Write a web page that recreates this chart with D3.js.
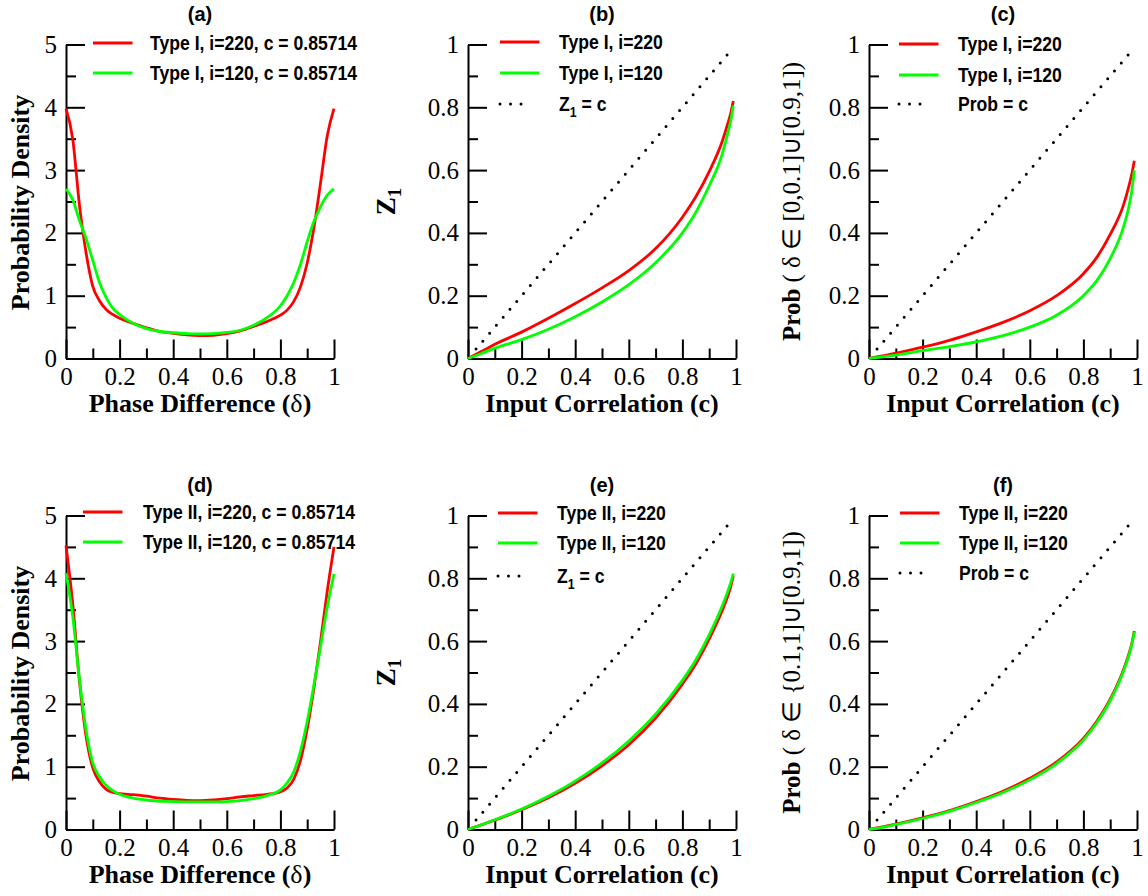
<!DOCTYPE html>
<html>
<head>
<meta charset="utf-8">
<script src="https://cdn.jsdelivr.net/npm/d3@7"></script>
<style>
  html, body { margin: 0; padding: 0; background: #ffffff; }
  svg { display: block; }
</style>
</head>
<body>
<svg id="fig" width="1148" height="896"></svg>
<script>
// ---------------- data ----------------
// phase difference grid for the density panels (a) and (d)
const phaseX = [0, 0.025, 0.05, 0.075, 0.1, 0.125, 0.15, 0.175, 0.2, 0.25, 0.3, 0.35, 0.4, 0.45, 0.5,
                0.55, 0.6, 0.65, 0.7, 0.75, 0.8, 0.825, 0.85, 0.875, 0.9, 0.925, 0.95, 0.975, 1];
const densityTypeI_220  = [3.98, 3.50, 2.45, 1.68, 1.15, 0.92, 0.78, 0.70, 0.64, 0.56, 0.49, 0.43, 0.40, 0.375, 0.365,
                           0.37, 0.395, 0.44, 0.51, 0.59, 0.69, 0.77, 0.91, 1.14, 1.52, 2.08, 2.80, 3.55, 3.98];
const densityTypeI_120  = [2.70, 2.53, 2.20, 1.91, 1.56, 1.21, 0.97, 0.80, 0.70, 0.56, 0.475, 0.43, 0.41, 0.395, 0.39,
                           0.395, 0.415, 0.45, 0.53, 0.65, 0.84, 1.00, 1.21, 1.50, 1.86, 2.18, 2.42, 2.60, 2.70];
const densityTypeII_220 = [4.52, 3.60, 2.37, 1.48, 0.98, 0.76, 0.64, 0.59, 0.57, 0.555, 0.53, 0.50, 0.48, 0.465, 0.46,
                           0.47, 0.49, 0.52, 0.54, 0.56, 0.60, 0.66, 0.80, 1.10, 1.60, 2.25, 3.00, 3.80, 4.50];
const densityTypeII_120 = [4.08, 3.40, 2.40, 1.58, 1.06, 0.84, 0.70, 0.62, 0.56, 0.50, 0.47, 0.45, 0.445, 0.44, 0.44,
                           0.44, 0.445, 0.46, 0.49, 0.54, 0.63, 0.74, 0.92, 1.25, 1.72, 2.30, 2.92, 3.55, 4.07];

// input correlation grid for panels (b), (c), (e), (f)
const corrX = [0, 0.05, 0.1, 0.2, 0.3, 0.4, 0.5, 0.6, 0.7, 0.8, 0.85, 0.9, 0.95, 0.97, 0.98, 0.99];
const z1TypeI_220    = [0, 0.022, 0.045, 0.084, 0.128, 0.175, 0.225, 0.28, 0.35, 0.45, 0.515, 0.595, 0.695, 0.75, 0.78, 0.82];
const z1TypeI_120    = [0, 0.016, 0.033, 0.060, 0.093, 0.133, 0.180, 0.235, 0.305, 0.40, 0.465, 0.55, 0.655, 0.72, 0.755, 0.805];
const probTypeI_220  = [0, 0.008, 0.017, 0.036, 0.058, 0.085, 0.115, 0.152, 0.20, 0.27, 0.322, 0.395, 0.49, 0.55, 0.585, 0.63];
const probTypeI_120  = [0, 0.005, 0.011, 0.025, 0.038, 0.053, 0.073, 0.10, 0.138, 0.20, 0.248, 0.318, 0.42, 0.485, 0.53, 0.60];
const z1TypeII_220   = [0, 0.015, 0.030, 0.063, 0.101, 0.147, 0.203, 0.27, 0.355, 0.463, 0.527, 0.607, 0.70, 0.745, 0.772, 0.808];
const z1TypeII_120   = [0, 0.015, 0.031, 0.065, 0.106, 0.154, 0.212, 0.282, 0.367, 0.475, 0.54, 0.62, 0.715, 0.76, 0.785, 0.815];
const probTypeII_220 = [0, 0.008, 0.017, 0.037, 0.060, 0.089, 0.122, 0.163, 0.215, 0.29, 0.345, 0.415, 0.51, 0.56, 0.59, 0.632];
const probTypeII_120 = [0, 0.007, 0.016, 0.035, 0.058, 0.086, 0.118, 0.158, 0.21, 0.285, 0.34, 0.41, 0.505, 0.555, 0.585, 0.63];

// reference diagonal (value = c), drawn dotted
const identityC = [0.03, 0.98];

// ticks
const xTickValues   = [0, 0.2, 0.4, 0.6, 0.8, 1];
const xTickLabels   = ["0", "0.2", "0.4", "0.6", "0.8", "1"];
const xMinorValues  = [0.1, 0.3, 0.5, 0.7, 0.9];
const densityTicks  = [0, 1, 2, 3, 4, 5];
const densityLabels = ["0", "1", "2", "3", "4", "5"];
const densityMinor  = [0.5, 1.5, 2.5, 3.5, 4.5];
const fracTicks     = [0, 0.2, 0.4, 0.6, 0.8, 1];
const fracLabels    = ["0", "0.2", "0.4", "0.6", "0.8", "1"];
const fracMinor     = [0.1, 0.3, 0.5, 0.7, 0.9];

// ---------------- drawing ----------------
const svg = d3.select("#fig");
const SERIF = "'Liberation Serif','Times New Roman',Times,serif";
const SANS  = "'Liberation Sans',Arial,Helvetica,sans-serif";
const RED = "#ff0000", GREEN = "#00ff00";

const colX = [66, 468, 869];
const rowY = [44.5, 515.5];
const plotW = 268, plotH = 314;

function condense(sel, k) {
  sel.each(function () {
    const len = this.getComputedTextLength();
    d3.select(this).attr("textLength", len * k).attr("lengthAdjust", "spacingAndGlyphs");
  });
}

const panels = [
  { tag: "(a)", col: 0, row: 0, kind: "density", yMax: 5,
    series: [{ x: phaseX, y: densityTypeI_220, c: RED, name: "Type I, i=220, c = 0.85714" },
             { x: phaseX, y: densityTypeI_120, c: GREEN, name: "Type I, i=120, c = 0.85714" }],
    leg: { lx: 27, tx: 84, rows: [-1.5, 28.5] } },
  { tag: "(b)", col: 1, row: 0, kind: "z1", yMax: 1,
    series: [{ x: corrX, y: z1TypeI_220, c: RED, name: "Type I, i=220" },
             { x: corrX, y: z1TypeI_120, c: GREEN, name: "Type I, i=120" }],
    diag: "z1",
    leg: { lx: 32, tx: 91, rows: [-2.5, 28.5, 59.5] } },
  { tag: "(c)", col: 2, row: 0, kind: "prob", yMax: 1, probText: "[0,0.1]\u222A[0.9,1])",
    series: [{ x: corrX, y: probTypeI_220, c: RED, name: "Type I, i=220" },
             { x: corrX, y: probTypeI_120, c: GREEN, name: "Type I, i=120" }],
    diag: "prob",
    leg: { lx: 30, tx: 89, rows: [-0.5, 30.5, 59.5] } },
  { tag: "(d)", col: 0, row: 1, kind: "density", yMax: 5,
    series: [{ x: phaseX, y: densityTypeII_220, c: RED, name: "Type II, i=220, c = 0.85714" },
             { x: phaseX, y: densityTypeII_120, c: GREEN, name: "Type II, i=120, c = 0.85714" }],
    leg: { lx: 17, tx: 77, rows: [-3.5, 26.5] } },
  { tag: "(e)", col: 1, row: 1, kind: "z1", yMax: 1,
    series: [{ x: corrX, y: z1TypeII_220, c: RED, name: "Type II, i=220" },
             { x: corrX, y: z1TypeII_120, c: GREEN, name: "Type II, i=120" }],
    diag: "z1",
    leg: { lx: 30, tx: 89, rows: [-2.5, 27.5, 60.5] } },
  { tag: "(f)", col: 2, row: 1, kind: "prob", yMax: 1, probText: "{0.1,1]\u222A[0.9,1])",
    series: [{ x: corrX, y: probTypeII_220, c: RED, name: "Type II, i=220" },
             { x: corrX, y: probTypeII_120, c: GREEN, name: "Type II, i=120" }],
    diag: "prob",
    leg: { lx: 31, tx: 90, rows: [-2.5, 27.5, 57.5] } }
];

function styleAxis(g) {
  g.attr("font-family", SERIF).attr("font-size", 25);
  g.selectAll("path.domain").attr("stroke", "#000").attr("stroke-width", 2);
  g.selectAll(".tick line").attr("stroke", "#000").attr("stroke-width", 2);
  g.selectAll(".tick text").attr("fill", "#000")
    .attr("font-family", SERIF).attr("font-size", 25).attr("font-weight", "normal");
}

panels.forEach(p => {
  const g = svg.append("g").attr("transform", `translate(${colX[p.col]},${rowY[p.row]})`);
  const x = d3.scaleLinear().domain([0, 1]).range([0, plotW]);
  const y = d3.scaleLinear().domain([0, p.yMax]).range([plotH, 0]);
  const yTicks  = p.kind === "density" ? densityTicks  : fracTicks;
  const yLabels = p.kind === "density" ? densityLabels : fracLabels;
  const yMinor  = p.kind === "density" ? densityMinor  : fracMinor;

  // minor ticks
  g.append("g").attr("transform", `translate(0,${plotH})`)
    .call(d3.axisBottom(x).tickValues(xMinorValues).tickSizeInner(-10).tickSizeOuter(0).tickFormat(""))
    .call(styleAxis).call(a => a.select("path.domain").remove());
  g.append("g")
    .call(d3.axisLeft(y).tickValues(yMinor).tickSizeInner(-10).tickSizeOuter(0).tickFormat(""))
    .call(styleAxis).call(a => a.select("path.domain").remove());

  // major axes
  g.append("g").attr("transform", `translate(0,${plotH})`)
    .call(d3.axisBottom(x).tickValues(xTickValues).tickSizeInner(-19).tickSizeOuter(0).tickPadding(9)
      .tickFormat((d, i) => xTickLabels[i]))
    .call(styleAxis);
  g.append("g")
    .call(d3.axisLeft(y).tickValues(yTicks).tickSizeInner(-19).tickSizeOuter(0).tickPadding(9)
      .tickFormat((d, i) => yLabels[i]))
    .call(styleAxis);

  // dotted diagonal
  if (p.diag) {
    g.append("path")
      .attr("d", d3.line().x(d => x(d)).y(d => y(d))(identityC))
      .attr("fill", "none").attr("stroke", "#000").attr("stroke-width", 3)
      .attr("stroke-linecap", "round").attr("stroke-dasharray", "0 10.45");
  }

  // data curves
  const line = d3.line().curve(d3.curveMonotoneX);
  p.series.forEach(s => {
    g.append("path")
      .attr("d", line.x((d, i) => x(s.x[i])).y(d => y(d))(s.y))
      .attr("fill", "none").attr("stroke", s.c).attr("stroke-width", 2.8)
      .attr("stroke-linejoin", "round");
  });

  // panel tag
  g.append("text").attr("x", plotW / 2).attr("y", -24)
    .attr("text-anchor", "middle").attr("font-family", SANS).attr("font-weight", "bold")
    .attr("font-size", 20).text(p.tag);

  // legend
  const entries = p.series.map(s => ({ c: s.c, name: s.name, dotted: false }));
  if (p.diag) entries.push({ c: "#000", name: p.diag, dotted: true });
  entries.forEach((e, i) => {
    const ly = p.leg.rows[i];
    const seg = g.append("line").attr("x1", p.leg.lx).attr("x2", p.leg.lx + 39.5)
      .attr("y1", ly).attr("y2", ly).attr("stroke", e.c);
    if (e.dotted) {
      seg.attr("x2", p.leg.lx + 31.5).attr("stroke-width", 3).attr("stroke-linecap", "round")
        .attr("stroke-dasharray", "0 10.5");
    } else {
      seg.attr("stroke-width", 3);
    }
    const t = g.append("text").attr("x", p.leg.tx).attr("y", ly + 7)
      .attr("font-family", SANS).attr("font-weight", "bold").attr("font-size", 20).attr("fill", "#000");
    if (e.name === "z1") {
      t.append("tspan").text("Z");
      t.append("tspan").attr("font-size", 14).attr("dy", 6).text("1");
      t.append("tspan").attr("dy", -6).text(" = c");
    } else if (e.name === "prob") {
      t.text("Prob = c");
    } else {
      t.text(e.name);
    }
    t.call(condense, 0.88);
  });

  // x-axis title
  const xt = g.append("text").attr("x", plotW / 2).attr("y", plotH + 53.5)
    .attr("text-anchor", "middle").attr("font-family", SERIF).attr("font-size", 26)
    .attr("font-weight", "bold").attr("fill", "#000");
  if (p.kind === "density") {
    xt.append("tspan").text("Phase Difference (");
    xt.append("tspan").attr("font-weight", "normal").text("\u03B4");
    xt.append("tspan").text(")");
  } else {
    xt.text("Input Correlation (c)");
  }

  // y-axis title
  if (p.kind === "density") {
    g.append("text").attr("transform", `translate(${-37},${plotH / 2 + 1}) rotate(-90)`)
      .attr("text-anchor", "middle").attr("font-family", SERIF).attr("font-size", 26)
      .attr("font-weight", "bold").attr("fill", "#000").text("Probability Density");
  } else if (p.kind === "z1") {
    const t = g.append("text").attr("transform", `translate(${-73},${plotH / 2}) rotate(-90)`)
      .attr("text-anchor", "middle").attr("font-family", SERIF).attr("font-size", 27)
      .attr("font-weight", "bold").attr("fill", "#000");
    t.append("tspan").text("Z");
    t.append("tspan").attr("font-size", 19).attr("dy", 6).text("1");
  } else {
    const t = g.append("text").attr("transform", `translate(${-69},${plotH / 2}) rotate(-90)`)
      .attr("text-anchor", "middle").attr("font-family", SERIF).attr("font-size", 25).attr("fill", "#000");
    t.append("tspan").attr("font-weight", "bold").text("Prob");
    t.append("tspan").text(" ( \u03B4 \u2208 " + p.probText);
  }
});
</script>
</body>
</html>
